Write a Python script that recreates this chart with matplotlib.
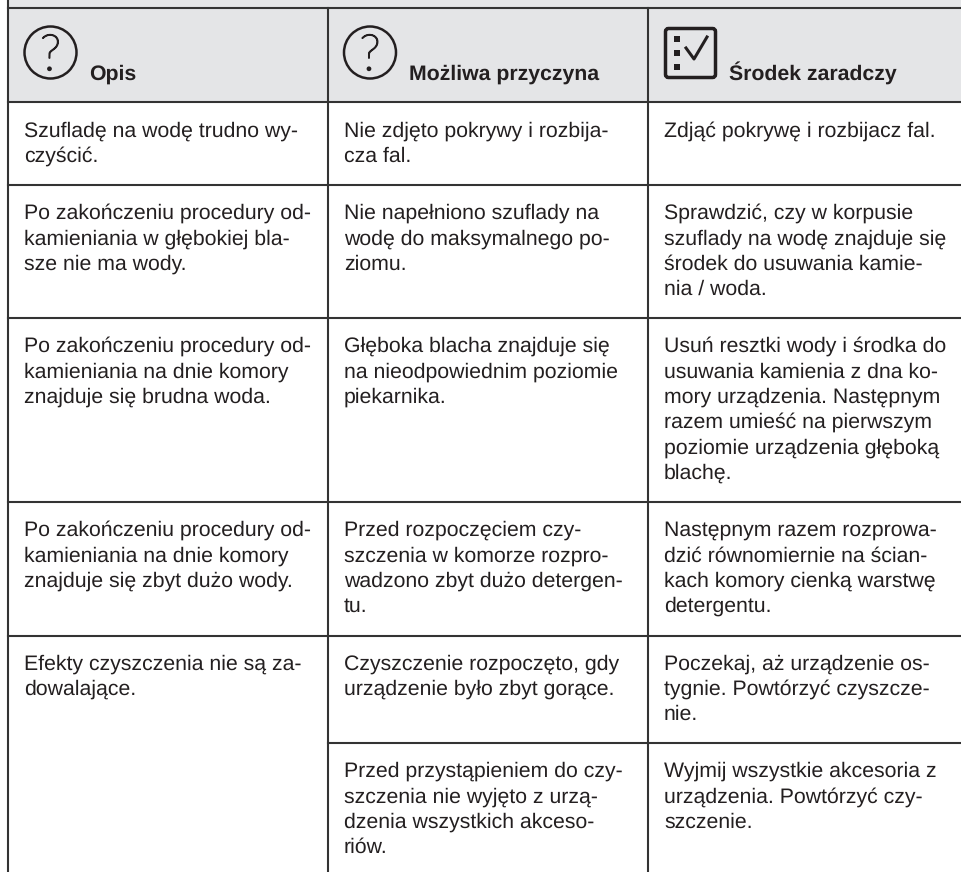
import matplotlib.pyplot as plt
import matplotlib.patheffects as pe
from matplotlib.patches import Circle, FancyBboxPatch, Rectangle

plt.rcParams['font.family'] = ['Liberation Sans', 'DejaVu Sans']
plt.rcParams['text.hinting'] = 'no_hinting'

GREY = '#e4e5e7'
LINE = '#333333'
INK = '#231f20'

headers = ['Opis', 'Możliwa przyczyna', 'Środek zaradczy']

opis = [
  ['Szufladę na wodę trudno wy-', 'czyścić.'],
  ['Po zakończeniu procedury od-', 'kamieniania w głębokiej bla-', 'sze nie ma wody.'],
  ['Po zakończeniu procedury od-', 'kamieniania na dnie komory', 'znajduje się brudna woda.'],
  ['Po zakończeniu procedury od-', 'kamieniania na dnie komory', 'znajduje się zbyt dużo wody.'],
  ['Efekty czyszczenia nie są za-', 'dowalające.'],
  [],
]
przyczyna = [
  ['Nie zdjęto pokrywy i rozbija-', 'cza fal.'],
  ['Nie napełniono szuflady na', 'wodę do maksymalnego po-', 'ziomu.'],
  ['Głęboka blacha znajduje się', 'na nieodpowiednim poziomie', 'piekarnika.'],
  ['Przed rozpoczęciem czy-', 'szczenia w komorze rozpro-', 'wadzono zbyt dużo detergen-', 'tu.'],
  ['Czyszczenie rozpoczęto, gdy', 'urządzenie było zbyt gorące.'],
  ['Przed przystąpieniem do czy-', 'szczenia nie wyjęto z urzą-', 'dzenia wszystkich akceso-', 'riów.'],
]
srodek = [
  ['Zdjąć pokrywę i rozbijacz fal.'],
  ['Sprawdzić, czy w korpusie', 'szuflady na wodę znajduje się', 'środek do usuwania kamie-', 'nia / woda.'],
  ['Usuń resztki wody i środka do', 'usuwania kamienia z dna ko-', 'mory urządzenia. Następnym', 'razem umieść na pierwszym', 'poziomie urządzenia głęboką', 'blachę.'],
  ['Następnym razem rozprowa-', 'dzić równomiernie na ścian-', 'kach komory cienką warstwę', 'detergentu.'],
  ['Poczekaj, aż urządzenie os-', 'tygnie. Powtórzyć czyszcze-', 'nie.'],
  ['Wyjmij wszystkie akcesoria z', 'urządzenia. Powtórzyć czy-', 'szczenie.'],
]

col_x = [8, 328, 648]
row_y = [102.5, 185, 318, 502, 635.5, 743]


def question_icon(ax, x, y):
  ax.add_patch(Circle((x, y), 26, fill=False, ec=INK, lw=1.8))
  label = ax.text(x, y + 17.5, '?', family='Lato', fontweight='light', fontsize=36, color=INK, ha='center', va='baseline')
  label.set_path_effects([pe.withStroke(linewidth=1.1, foreground=INK)])


def checklist_icon(ax):
  ax.add_patch(FancyBboxPatch((665.5, 28.5), 50, 49, boxstyle='round,pad=0,rounding_size=3', fill=False, ec=INK, lw=2.5))
  for y in [39, 53, 67]:
    ax.add_patch(Rectangle((674.5, y - 3), 6, 6, color=INK, lw=0))
  ax.plot([686, 694, 707], [48, 59, 37], color=INK, lw=2.2)


fig = plt.figure(figsize=(9.62, 8.72), dpi=100)
ax = fig.add_axes([0, 0, 1, 1])
ax.set_xlim(0, 962)
ax.set_ylim(872, 0)
ax.axis('off')

ax.add_patch(Rectangle((8, 0), 954, row_y[0], color=GREY, lw=0))

# grid
ax.plot([8, 962], [8, 8], color=LINE, lw=1.5)
for i, y in enumerate(row_y):
  start = col_x[1] if i == 5 else col_x[0]
  ax.plot([start, 962], [y, y], color=LINE, lw=1.5)
ax.plot([8, 8], [0, 872], color=LINE, lw=1.5)
for x in col_x[1:]:
  ax.plot([x, x], [8, 872], color=LINE, lw=1.5)

question_icon(ax, 50.5, 52.5)
question_icon(ax, 370, 52.5)
checklist_icon(ax)

header_x = [89, 409, 729]
for x, label in zip(header_x, headers):
  ax.text(x, 80, label, fontsize=15.3, fontweight='bold', color=INK, va='baseline')

for x, column in zip(col_x, [opis, przyczyna, srodek]):
  for y, lines in zip(row_y, column):
    for n, line in enumerate(lines):
      ax.text(x + 16, y + 34 + n * 25.3, line, fontsize=15.3, color=INK, va='baseline')

fig.savefig('out.png', dpi=100)
